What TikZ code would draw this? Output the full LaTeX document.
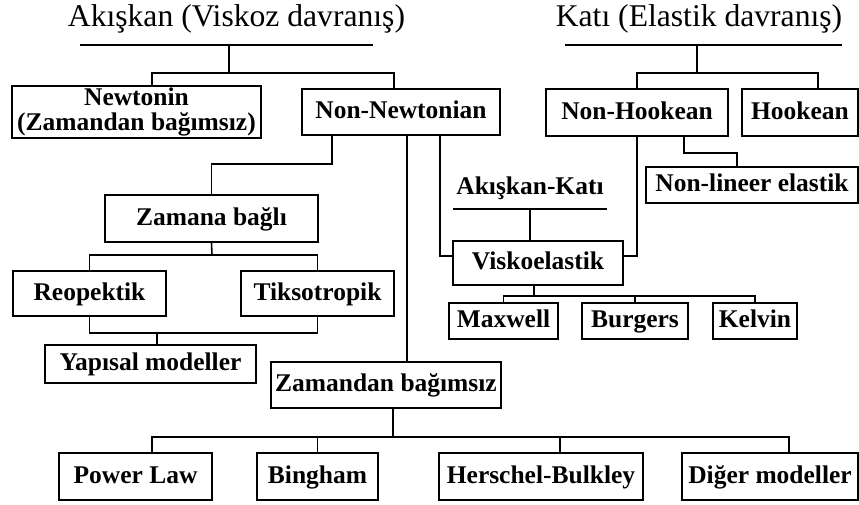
\documentclass[tikz,border=0pt]{standalone}
\usepackage{fontspec}
\setmainfont{Liberation Serif}

\begin{document}
\begin{tikzpicture}[x=0.02cm, y=-0.02cm, line width=0.9pt,
  kutu/.style={draw, inner sep=0pt, align=center, font=\fontsize{14.5}{14}\selectfont\bfseries},
  tek/.style={kutu, text height=10.5pt, text depth=3pt},
  baslik/.style={inner sep=0pt, font=\fontsize{18}{20}\selectfont}]
  \useasboundingbox (0,0) rectangle (859,504);

  % Basliklar
  \node[baslik] (akiskan) at (236.5,19) {Akışkan (Viskoz davranış)};
  \node[baslik] (kati) at (699,19) {Katı (Elastik davranış)};
  \node[tek, draw=none] (akkati) at (530,188) {Akışkan-Katı};
  \coordinate (akL) at (80,45);  \coordinate (akR) at (373,45);
  \coordinate (akM) at (229,45); \coordinate (akJ) at (229,73);
  \coordinate (kaL) at (565,45); \coordinate (kaR) at (842,45);
  \coordinate (kaM) at (697,45); \coordinate (kaJ) at (697,73);
  \coordinate (akkL) at (453,209); \coordinate (akkR) at (607,209);
  \coordinate (akkM) at (530,209);

  % Akiskan kollari
  \node[kutu, minimum width=4.98cm, minimum height=1.04cm] (newt) at (136.5,112) {Newtonin\\(Zamandan bağımsız)};
  \node[tek, minimum width=3.96cm, minimum height=0.92cm] (nonnewt) at (401,112) {Non-Newtonian};
  \node[tek, minimum width=4.26cm, minimum height=0.94cm] (zbagli) at (211.5,218.5) {Zamana bağlı};
  \node[tek, minimum width=3.06cm, minimum height=0.90cm] (reo) at (89.5,293.5) {Reopektik};
  \node[tek, minimum width=3.06cm, minimum height=0.90cm] (tikso) at (317.5,293.5) {Tiksotropik};
  \node[tek, minimum width=4.22cm, minimum height=0.76cm] (yapisal) at (150.5,364) {Yapısal modeller};
  \node[tek, minimum width=4.60cm, minimum height=0.92cm] (zbagimsiz) at (386,385) {Zamandan bağımsız};

  % Alt sira modeller
  \node[tek, minimum width=3.06cm, minimum height=0.94cm] (power) at (135.5,476.5) {Power Law};
  \node[tek, minimum width=2.42cm, minimum height=0.94cm] (bingham) at (317.5,476.5) {Bingham};
  \node[tek, minimum width=4.08cm, minimum height=0.94cm] (hb) at (541,476.5) {Herschel-Bulkley};
  \node[tek, minimum width=3.52cm, minimum height=0.94cm] (diger) at (770,476.5) {Diğer modeller};

  % Kati kollari
  \node[tek, minimum width=3.64cm, minimum height=0.94cm] (nonhook) at (637,112.5) {Non-Hookean};
  \node[tek, minimum width=2.32cm, minimum height=0.94cm] (hook) at (800,112.5) {Hookean};
  \node[tek, minimum width=4.24cm, minimum height=0.72cm] (nonlin) at (752,185) {Non-lineer elastik};
  \node[tek, minimum width=3.40cm, minimum height=0.88cm] (visko) at (538,263) {Viskoelastik};
  \node[tek, minimum width=2.18cm, minimum height=0.72cm] (maxwell) at (503.5,321) {Maxwell};
  \node[tek, minimum width=2.12cm, minimum height=0.72cm] (burgers) at (635,321) {Burgers};
  \node[tek, minimum width=1.68cm, minimum height=0.72cm] (kelvin) at (755,321) {Kelvin};

  % Baslik cizgileri
  \draw (akL) -- (akR);
  \draw (kaL) -- (kaR);
  \draw (akkL) -- (akkR);

  % Baglantilar
  \draw (akM) -- (akJ);
  \draw (newt.north -| 152,0) |- (akJ) -| (nonnewt.north -| 394,0);
  \draw (kaM) -- (kaJ);
  \draw (nonhook.north) |- (kaJ) -| (hook.north -| 818,0);
  \draw (nonnewt.south -| 332,0) -- ++(0,28) -| (zbagli.north);
  \draw (nonnewt.south -| 407,0) -- (zbagimsiz.north -| 407,0);
  \draw (nonnewt.south -| 440,0) |- (visko.west |- 0,256);
  \draw (nonhook.south) |- (visko.east |- 0,256);
  \draw (nonhook.south -| 684,0) -- ++(0,16) -| (nonlin.north -| 737,0);
  \draw (akkM) -- (visko.north -| akkM);

  % Zamana bagli
  \coordinate (zbJ) at (212,255);
  \draw (zbagli.south) -- (zbJ);
  \draw (reo.north) |- (zbJ) -| (tikso.north);
  \coordinate (rtJ) at (157,333);
  \draw (reo.south) |- (rtJ) -| (tikso.south);
  \draw (rtJ) -- (yapisal.north -| rtJ);

  % Zamandan bagimsiz
  \coordinate (ziJ) at (393,437);
  \draw (zbagimsiz.south -| ziJ) -- (ziJ);
  \draw (power.north -| 152,0) |- (ziJ) -| (diger.north -| 789,0);
  \draw (bingham.north) -- (bingham.north |- ziJ);
  \draw (hb.north -| 560,0) -- (ziJ -| 560,0);

  % Viskoelastik
  \coordinate (vkJ) at (534,296);
  \draw (visko.south -| vkJ) -- (vkJ);
  \draw (maxwell.north) |- (vkJ) -| (kelvin.north);
  \draw (burgers.north) -- (burgers.north |- vkJ);
\end{tikzpicture}
\end{document}
